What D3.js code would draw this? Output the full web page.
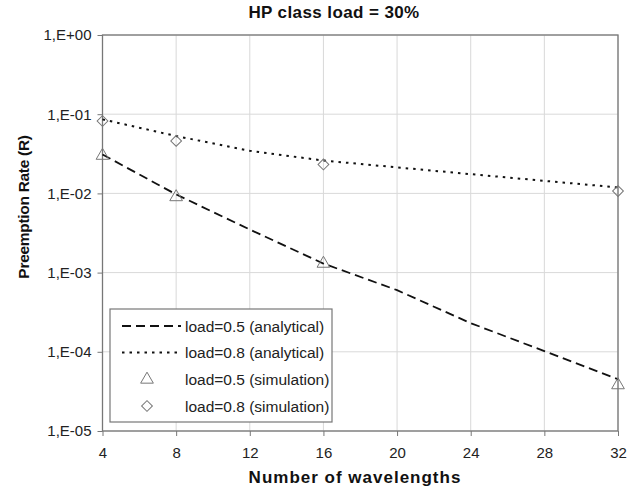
<!DOCTYPE html>
<html>
<head>
<meta charset="utf-8">
<script src="https://cdn.jsdelivr.net/npm/d3@7"></script>
<style>
  html, body { margin: 0; padding: 0; background: #fff; }
  svg { display: block; font-family: "Liberation Sans", Arial, sans-serif; }
</style>
</head>
<body>
<svg id="chart" width="642" height="491"></svg>
<script>
// ---- data ----
const titleText = "HP class load = 30%";
const xTitle = "Number of wavelengths";
const yTitle = "Preemption Rate (R)";
const xTicks = [4, 8, 12, 16, 20, 24, 28, 32];
const yTicks = [1e-5, 1e-4, 1e-3, 1e-2, 1e-1, 1];

const analyticalX = [4, 8, 12, 16, 20, 24, 28, 32];
const analytical05 = [0.031, 0.0097, 0.0035, 0.0013, 0.0006, 0.00023, 0.000102, 0.000045];
const analytical08 = [0.086, 0.053, 0.0345, 0.026, 0.0213, 0.0175, 0.0144, 0.0119];

const simX = [4, 8, 16, 32];
const sim05 = [0.030, 0.0090, 0.0013, 0.000038];
const sim08 = [0.082, 0.046, 0.0232, 0.0107];

const legendLabels = ["load=0.5 (analytical)", "load=0.8 (analytical)", "load=0.5 (simulation)", "load=0.8 (simulation)"];

// ---- layout ----
const svg = d3.select("#chart");
const L = 102.5, R = 618, T = 35, B = 431;
const x = d3.scaleLinear().domain([4, 32]).range([L, R]);
const y = d3.scaleLog().domain([1e-5, 1]).range([B, T]);

const fmtY = v => {
  const e = Math.round(Math.log10(v));
  return "1,E" + (e >= 0 ? "+" : "-") + String(Math.abs(e)).padStart(2, "0");
};

// gridlines
const grid = svg.append("g");
grid.selectAll("line.gx").data(xTicks).join("line")
  .attr("x1", d => x(d)).attr("x2", d => x(d)).attr("y1", T).attr("y2", B)
  .attr("stroke", "#d9d9d9").attr("stroke-width", 1);
grid.selectAll("line.gy").data(yTicks).join("line")
  .attr("x1", L).attr("x2", R).attr("y1", d => y(d)).attr("y2", d => y(d))
  .attr("stroke", "#d9d9d9").attr("stroke-width", 1);

// axes
const xAxis = d3.axisBottom(x).tickValues(xTicks).tickSize(5).tickPadding(11).tickFormat(d3.format("d"));
const yAxis = d3.axisLeft(y).tickValues(yTicks).tickSize(5).tickPadding(6).tickFormat(fmtY);

const gx = svg.append("g").attr("transform", `translate(0,${B})`).call(xAxis);
const gy = svg.append("g").attr("transform", `translate(${L},0)`).call(yAxis);
[gx, gy].forEach(g => {
  g.select(".domain").remove();
  g.selectAll(".tick line").attr("stroke", "#777");
  g.selectAll(".tick text").attr("fill", "#222").style("font-size", "15px")
    .style("font-family", "'Liberation Sans', Arial, sans-serif");
});

// plot border
svg.append("rect").attr("x", L).attr("y", T).attr("width", R - L).attr("height", B - T)
  .attr("fill", "none").attr("stroke", "#777").attr("stroke-width", 1.3);

// lines
const line = d3.line().x(d => x(d[0])).y(d => y(d[1]));
svg.append("path").datum(analyticalX.map((v, i) => [v, analytical05[i]]))
  .attr("d", line).attr("fill", "none").attr("stroke", "#111")
  .attr("stroke-width", 1.8).attr("stroke-dasharray", "9,5");
svg.append("path").datum(analyticalX.map((v, i) => [v, analytical08[i]]))
  .attr("d", line).attr("fill", "none").attr("stroke", "#111")
  .attr("stroke-width", 2).attr("stroke-dasharray", "2.5,5");

// markers
const tri = d3.symbol().type(d3.symbolTriangle).size(70);
const dia = d3.symbol().type(d3.symbolSquare).size(58);
svg.append("g").selectAll("path").data(simX.map((v, i) => [v, sim05[i]])).join("path")
  .attr("d", tri()).attr("transform", d => `translate(${x(d[0])},${y(d[1])})`)
  .attr("fill", "none").attr("stroke", "#777").attr("stroke-width", 1);
svg.append("g").selectAll("path").data(simX.map((v, i) => [v, sim08[i]])).join("path")
  .attr("d", dia()).attr("transform", d => `translate(${x(d[0])},${y(d[1])}) rotate(45)`)
  .attr("fill", "none").attr("stroke", "#777").attr("stroke-width", 1);

// legend
const lg = svg.append("g");
lg.append("rect").attr("x", 110).attr("y", 309).attr("width", 222).attr("height", 113)
  .attr("fill", "#fff").attr("stroke", "#777").attr("stroke-width", 1.2);
const rowsY = [326, 352.5, 379.5, 406];
lg.append("line").attr("x1", 122).attr("x2", 181).attr("y1", rowsY[0]).attr("y2", rowsY[0])
  .attr("stroke", "#111").attr("stroke-width", 1.8).attr("stroke-dasharray", "9,5");
lg.append("line").attr("x1", 122).attr("x2", 181).attr("y1", rowsY[1]).attr("y2", rowsY[1])
  .attr("stroke", "#111").attr("stroke-width", 2).attr("stroke-dasharray", "2.5,5");
lg.append("path").attr("d", tri()).attr("transform", `translate(147,${rowsY[2]})`)
  .attr("fill", "none").attr("stroke", "#777");
lg.append("path").attr("d", dia()).attr("transform", `translate(147,${rowsY[3]}) rotate(45)`)
  .attr("fill", "none").attr("stroke", "#777");
lg.selectAll("text").data(legendLabels).join("text")
  .attr("x", 185).attr("y", (d, i) => rowsY[i] + 5.5)
  .attr("fill", "#222").style("font-size", "15.5px").text(d => d);

// titles
svg.append("text").attr("x", 334).attr("y", 18).attr("text-anchor", "middle")
  .style("font-size", "17px").style("font-weight", "bold").style("letter-spacing", "0.4px")
  .attr("fill", "#111").text(titleText);
svg.append("text").attr("x", 355).attr("y", 483).attr("text-anchor", "middle")
  .style("font-size", "17px").style("font-weight", "bold").style("letter-spacing", "1px")
  .attr("fill", "#111").text(xTitle);
svg.append("text").attr("transform", "translate(29,207) rotate(-90)").attr("text-anchor", "middle")
  .style("font-size", "15.5px").style("font-weight", "bold").style("letter-spacing", "-0.3px")
  .attr("fill", "#111").text(yTitle);
</script>
</body>
</html>
